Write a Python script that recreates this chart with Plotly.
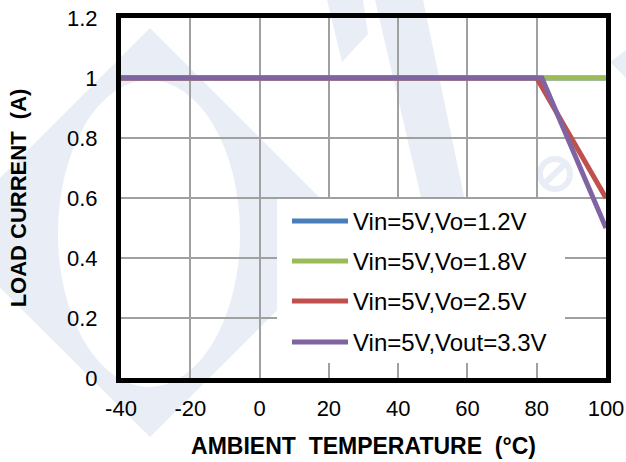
import plotly.graph_objects as go

# Derating curves: load current vs ambient temperature
series_names = ["Vin=5V,Vo=1.2V", "Vin=5V,Vo=1.8V", "Vin=5V,Vo=2.5V", "Vin=5V,Vout=3.3V"]
temp_12 = [-40, 100]
load_12 = [1.0, 1.0]
temp_18 = [-40, 100]
load_18 = [1.0, 1.0]
temp_25 = [-40, 80, 100]
load_25 = [1.0, 1.0, 0.6]
temp_33 = [-40, 81.5, 100]
load_33 = [1.0, 1.0, 0.5]
colors = ["#4A7EBB", "#9BBB59", "#C0504D", "#8064A2"]

x_ticks = [-40, -20, 0, 20, 40, 60, 80, 100]
x_ticktext = ["-40", "-20", "0", "20", "40", "60", "80", "100"]
y_ticks = [0, 0.2, 0.4, 0.6, 0.8, 1.0, 1.2]
y_ticktext = ["0", "0.2", "0.4", "0.6", "0.8", "1", "1.2"]

font_family = "Liberation Sans, Arial, sans-serif"

# canvas geometry (pixels) used for the decorative layer and the legend box
W, H = 626, 462
L, R, T, B = 121, 20, 18, 84
PW, PH = W - L - R, H - T - B


def px(x):
    return (x - L) / PW


def py(y):
    return (H - B - y) / PH


def poly(points):
    return "M" + " L".join(f"{px(x):.4f},{py(y):.4f}" for x, y in points) + " Z"


fig = go.Figure()
for name, xs, ys, c in zip(series_names,
                           [temp_12, temp_18, temp_25, temp_33],
                           [load_12, load_18, load_25, load_33],
                           colors):
    fig.add_trace(go.Scatter(x=xs, y=ys, mode="lines", name=name,
                             line=dict(color=c, width=5), showlegend=False))

shapes = []
wm = "#E9EEF6"
# faint logo watermark behind the grid
shapes.append(dict(type="path", xref="paper", yref="paper", layer="below",
                   path=poly([(150, 28), (355, 233), (150, 437), (-55, 233)]),
                   fillcolor=wm, line=dict(width=0)))
shapes.append(dict(type="circle", xref="paper", yref="paper", layer="below",
                   x0=px(58), x1=px(240), y0=py(387), y1=py(80),
                   fillcolor="white", line=dict(width=0)))
shapes.append(dict(type="path", xref="paper", yref="paper", layer="below",
                   path=poly([(375, 0), (423, 0), (492, 330), (452, 330)]),
                   fillcolor=wm, line=dict(width=0)))
shapes.append(dict(type="path", xref="paper", yref="paper", layer="below",
                   path=poly([(327, 0), (363, 0), (368, 34), (342, 62)]),
                   fillcolor=wm, line=dict(width=0)))
shapes.append(dict(type="path", xref="paper", yref="paper", layer="below",
                   path=poly([(610, 62), (626, 50), (626, 78)]),
                   fillcolor=wm, line=dict(width=0)))
shapes.append(dict(type="circle", xref="paper", yref="paper", layer="below",
                   x0=px(540), x1=px(570), y0=py(189), y1=py(159),
                   fillcolor="rgba(0,0,0,0)", line=dict(color=wm, width=6)))
shapes.append(dict(type="line", xref="paper", yref="paper", layer="below",
                   x0=px(544), x1=px(567), y0=py(184), y1=py(162),
                   line=dict(color=wm, width=6)))

# legend panel
shapes.append(dict(type="rect", xref="paper", yref="paper", layer="above",
                   x0=px(277), x1=px(565), y0=py(363), y1=py(199),
                   fillcolor="white", line=dict(width=0)))
legend_rows = [221, 261, 301, 342]
annotations = []
for name, c, yr in zip(series_names, colors, legend_rows):
    shapes.append(dict(type="line", xref="paper", yref="paper", layer="above",
                       x0=px(292), x1=px(348), y0=py(yr), y1=py(yr),
                       line=dict(color=c, width=5)))
    annotations.append(dict(xref="paper", yref="paper", x=px(351), y=py(yr),
                            xanchor="left", yanchor="middle", showarrow=False,
                            text=name, font=dict(size=24, color="black")))

fig.update_layout(
    width=W, height=H,
    margin=dict(l=L, r=R, t=T, b=B),
    paper_bgcolor="white", plot_bgcolor="rgba(0,0,0,0)",
    font=dict(family=font_family, size=22, color="black"),
    showlegend=False,
    shapes=shapes, annotations=annotations,
)
fig.update_xaxes(range=[-40, 100], tickvals=x_ticks, ticktext=x_ticktext,
                 showgrid=True, gridcolor="#A0A0A0", gridwidth=2,
                 showline=True, linecolor="black", linewidth=5, mirror=True,
                 zeroline=False, ticks="", ticklabelstandoff=7, automargin=False,
                 title=dict(text="<b>AMBIENT  TEMPERATURE  (°C)</b>",
                            font=dict(size=23), standoff=19))
fig.update_yaxes(range=[0, 1.2], tickvals=y_ticks, ticktext=y_ticktext,
                 showgrid=True, gridcolor="#A0A0A0", gridwidth=2,
                 showline=True, linecolor="black", linewidth=5, mirror=True,
                 zeroline=False, ticks="", ticklabelstandoff=14, automargin=False,
                 title=dict(text="<b>LOAD CURRENT  (A)</b>",
                            font=dict(size=22), standoff=36))

fig.write_html("out.html")
